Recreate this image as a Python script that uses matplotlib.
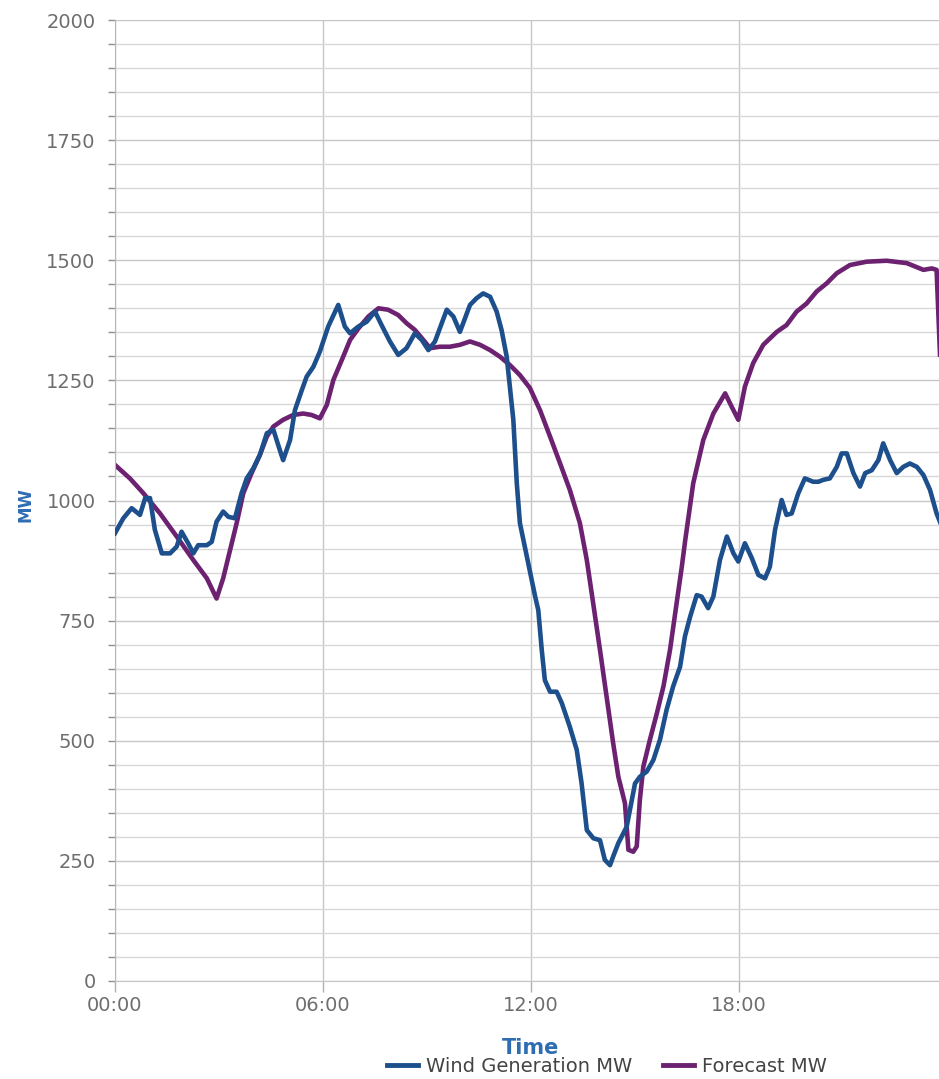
import numpy as np
import matplotlib
matplotlib.use("Agg")
import matplotlib.pyplot as plt
from matplotlib.ticker import MultipleLocator, FixedLocator, FuncFormatter

# wind generation (hours since 00:00, MW)
wind_hours = [0.00, 0.24, 0.48, 0.72, 0.87, 1.01, 1.15, 1.35, 1.59, 1.78, 1.92, 2.11, 2.26,
              2.40, 2.65, 2.79, 2.93, 3.12, 3.27, 3.46, 3.65, 3.80, 3.99, 4.18, 4.38, 4.57,
              4.71, 4.85, 5.05, 5.19, 5.39, 5.53, 5.72, 5.91, 6.15, 6.44, 6.63, 6.78, 7.02,
              7.26, 7.50, 7.69, 7.93, 8.17, 8.41, 8.65, 8.85, 9.04, 9.23, 9.57, 9.76, 9.95,
              10.24, 10.43, 10.62, 10.82, 11.01, 11.15, 11.30, 11.39, 11.49, 11.59, 11.68,
              11.88, 12.12, 12.21, 12.31, 12.40, 12.55, 12.74, 12.89, 13.12, 13.32, 13.46,
              13.61, 13.80, 13.99, 14.13, 14.28, 14.37, 14.52, 14.76, 15.00, 15.14, 15.34,
              15.53, 15.72, 15.91, 16.10, 16.30, 16.44, 16.59, 16.78, 16.92, 17.11, 17.26,
              17.45, 17.65, 17.84, 17.98, 18.17, 18.37, 18.56, 18.75, 18.89, 19.04, 19.23,
              19.37, 19.52, 19.71, 19.90, 20.14, 20.29, 20.43, 20.62, 20.82, 20.96, 21.11,
              21.30, 21.49, 21.64, 21.83, 22.02, 22.16, 22.36, 22.55, 22.74, 22.93, 23.13,
              23.32, 23.51, 23.70, 23.80]
wind_mw = [932, 963, 984, 970, 1005, 1005, 939, 890, 890, 904, 935, 911, 890,
           907, 907, 914, 956, 977, 966, 963, 1015, 1046, 1067, 1095, 1140, 1147,
           1115, 1084, 1126, 1188, 1230, 1258, 1278, 1310, 1362, 1407, 1362, 1348, 1362,
           1372, 1393, 1365, 1331, 1303, 1317, 1348, 1334, 1313, 1331, 1397, 1383, 1351,
           1407, 1421, 1431, 1424, 1393, 1355, 1299, 1237, 1168, 1036, 953,
           883, 800, 772, 689, 626, 602, 602, 578, 529, 481, 411,
           314, 297, 293, 252, 241, 259, 287, 321, 411, 425, 436,
           460, 502, 564, 613, 654, 717, 758, 803, 800, 776, 800,
           876, 925, 890, 873, 911, 880, 845, 838, 862, 939, 1001,
           970, 973, 1015, 1046, 1039, 1039, 1043, 1046, 1070, 1098, 1098,
           1057, 1029, 1057, 1063, 1084, 1119, 1084, 1057, 1070, 1077, 1070,
           1053, 1022, 973, 955]

# forecast (hours since 00:00, MW)
fc_hours = [0.00, 0.43, 0.82, 1.30, 1.78, 2.26, 2.65, 2.93, 3.12, 3.32, 3.51, 3.70, 3.94,
            4.18, 4.38, 4.57, 4.85, 5.14, 5.43, 5.67, 5.91, 6.11, 6.30, 6.54, 6.78, 7.02,
            7.31, 7.60, 7.88, 8.17, 8.41, 8.65, 8.85, 9.09, 9.37, 9.66, 9.95, 10.24, 10.53,
            10.82, 11.11, 11.39, 11.68, 11.97, 12.26, 12.55, 12.84, 13.12, 13.41, 13.61,
            13.80, 13.99, 14.18, 14.37, 14.52, 14.71, 14.81, 14.95, 15.05, 15.14, 15.24,
            15.43, 15.63, 15.82, 16.01, 16.20, 16.35, 16.45, 16.68, 16.97, 17.26, 17.60,
            17.79, 17.98, 18.17, 18.41, 18.70, 19.09, 19.37, 19.66, 19.95, 20.24, 20.53,
            20.82, 21.20, 21.68, 22.26, 22.84, 23.32, 23.56, 23.70, 23.80]
fc_mw = [1074, 1046, 1015, 973, 925, 876, 838, 796, 838, 897, 953, 1015, 1057,
         1095, 1133, 1154, 1168, 1178, 1181, 1178, 1171, 1199, 1251, 1292, 1334, 1358,
         1383, 1400, 1397, 1386, 1369, 1355, 1338, 1317, 1320, 1320, 1324, 1331, 1324,
         1313, 1299, 1282, 1261, 1234, 1188, 1133, 1077, 1022, 953, 876,
         783, 689, 592, 495, 425, 370, 273, 269, 280, 377, 446,
         502, 557, 613, 689, 786, 862, 918, 1036, 1126, 1181, 1223,
         1195, 1168, 1237, 1286, 1324, 1351, 1365, 1393, 1410, 1435, 1452,
         1473, 1490, 1497, 1499, 1494, 1480, 1483, 1480, 1300]

x_ticks = [0, 6, 12, 18]

W, H = 939, 1079
fig = plt.figure(figsize=(W / 100, H / 100), dpi=100)
# axes runs to 24:00 at px 947, a little past the right edge of the image
ax = fig.add_axes([115 / W, 1 - 981 / H, (947 - 115) / W, (981 - 20) / H])

blue = "#1c4f8b"
purple = "#6c2270"
ax.plot(wind_hours, wind_mw, color=blue, lw=3.3, solid_joinstyle="round",
        label="Wind Generation MW", zorder=3)
ax.plot(fc_hours, fc_mw, color=purple, lw=3.3, solid_joinstyle="round",
        label="Forecast MW", zorder=2)

ax.set_xlim(0, 24)
ax.set_ylim(0, 2000)
ax.xaxis.set_major_locator(FixedLocator(x_ticks))
ax.xaxis.set_major_formatter(FuncFormatter(lambda v, p: "%02d:00" % int(v)))
ax.yaxis.set_major_locator(MultipleLocator(250))
ax.yaxis.set_minor_locator(MultipleLocator(50))

ax.grid(True, which="major", axis="both", color="#c6c6c6", lw=1.0)
ax.grid(True, which="minor", axis="y", color="#d8d8d8", lw=1.0)
ax.set_axisbelow(True)

for s in ["top", "right"]:
    ax.spines[s].set_visible(False)
ax.spines["left"].set_color("#b8b8b8")
ax.spines["bottom"].set_color("#c6c6c6")

ax.tick_params(axis="y", which="both", length=5, color="#909090", width=1,
               labelsize=14, labelcolor="#6e6e6e", pad=9)
ax.tick_params(axis="x", which="major", length=8, color="#b0b0b0", width=1,
               labelsize=14, labelcolor="#6e6e6e", pad=3)
ax.tick_params(axis="x", which="minor", length=0)

ax.set_xlabel("Time", fontsize=15, fontweight="bold", color="#2f6db3", labelpad=16)
fig.text(25 / W, 1 - 505 / H, "MW", rotation=90, fontsize=12, fontweight="bold",
         color="#2f6db3", ha="center", va="center")

leg = fig.legend(loc="center", bbox_to_anchor=(607 / W, 1 - 1066 / H), ncol=2,
                 frameon=False, fontsize=14, handlelength=1.6, handletextpad=0.4,
                 columnspacing=1.6, labelcolor="#444444")
for line in leg.get_lines():
    line.set_linewidth(3.5)

fig.savefig("out.png", dpi=100)
